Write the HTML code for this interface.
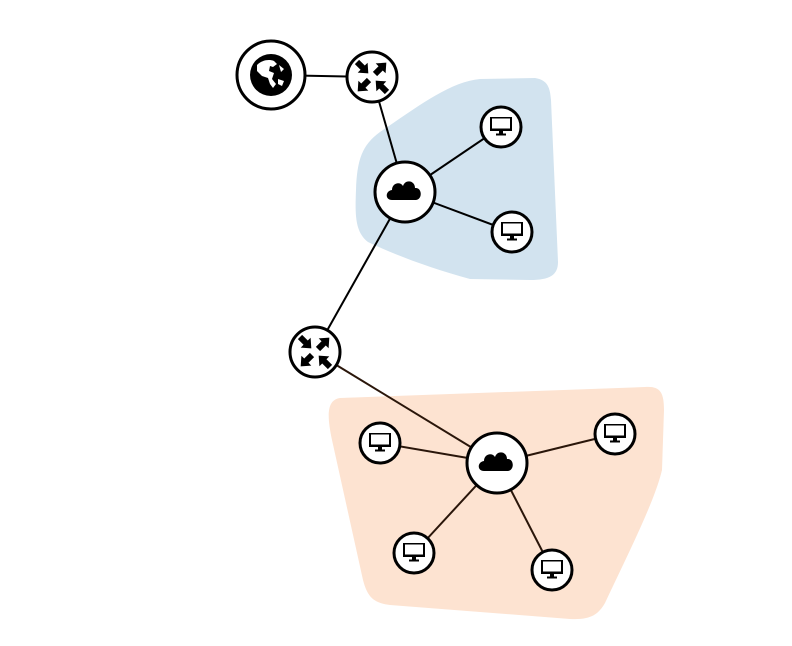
<!DOCTYPE html>
<html><head><meta charset="utf-8"><style>html,body{margin:0;padding:0;background:#fff}svg{display:block}</style></head>
<body>
<svg width="792" height="646" viewBox="0 0 792 646" xmlns="http://www.w3.org/2000/svg">
<defs>
  <g id="mon">
    <rect x="-11" y="-10" width="22" height="14" fill="#000"/>
    <rect x="-9" y="-8.5" width="18" height="10" fill="#fff"/>
    <rect x="-2" y="4" width="4" height="3" fill="#000"/>
    <rect x="-5" y="6.5" width="10" height="2" fill="#000"/>
  </g>
  <g id="cloud">
    <path d="M-13,9 C-20,9 -20,0 -13,-1 C-13,-8 -5,-10 -2,-5 C0,-12 10,-11 10,-3 C17,-4 18,8 11,9 Z" fill="#000"/>
  </g>
  <g id="arr">
    <path d="M0,-3 L8,-3 L8,-7 L16,0 L8,7 L8,3 L0,3 Z" fill="#000"/>
  </g>
  <g id="router">
    <use href="#arr" transform="translate(-15,-15) rotate(45)"/>
    <use href="#arr" transform="translate(3,-3) rotate(-45)"/>
    <use href="#arr" transform="translate(-3,3) rotate(135)"/>
    <use href="#arr" transform="translate(15,15) rotate(-135)"/>
  </g>
</defs>
<path d="M380,132 C420,105 450,82 480,79 L535,78 C548,80 550,88 551,100 L558,262 C558,275 550,280 530,280 L470,279 C430,268 395,255 368,242 C355,232 355,215 356,190 C357,160 362,145 380,132 Z" fill="#d2e3ef"/>
<path d="M340,398 L645,387 C660,386 664,392 664,410 L662,470 C655,500 630,550 605,603 C598,615 590,620 570,619 L390,605 C372,603 367,595 363,580 L332,440 C326,412 328,400 340,398 Z" fill="#fde3d1"/>
<g stroke="#000" stroke-width="2">
  <line x1="271" y1="75" x2="372" y2="77"/>
  <line x1="372" y1="77" x2="405" y2="192"/>
  <line x1="405" y1="192" x2="501" y2="127"/>
  <line x1="405" y1="192" x2="512" y2="232"/>
  <line x1="405" y1="192" x2="315" y2="352"/>
</g>
<g stroke="#2a160a" stroke-width="2">
  <line x1="315" y1="352" x2="497" y2="463"/>
  <line x1="497" y1="463" x2="380" y2="443"/>
  <line x1="497" y1="463" x2="615" y2="434"/>
  <line x1="497" y1="463" x2="414" y2="553"/>
  <line x1="497" y1="463" x2="552" y2="570"/>
</g>
<g fill="#fff" stroke="#000" stroke-width="3">
  <circle cx="271" cy="75" r="34"/>
  <circle cx="372" cy="77" r="25"/>
  <circle cx="405" cy="192" r="30"/>
  <circle cx="501" cy="127" r="20"/>
  <circle cx="512" cy="232" r="20"/>
  <circle cx="315" cy="352" r="25"/>
  <circle cx="497" cy="463" r="30"/>
  <circle cx="380" cy="443" r="20"/>
  <circle cx="615" cy="434" r="20"/>
  <circle cx="414" cy="553" r="20"/>
  <circle cx="552" cy="570" r="20"/>
</g>
<g transform="translate(271,75)">
  <circle r="21" fill="#000"/>
  <path d="M-14,-10 C-9,-15 -2,-16 3,-14 L6,-11 L2,-8 L-1,-9 L-2,-4 L3,-2 L1,4 L5,9 L2,13 L-1,9 L-3,3 L-9,1 L-14,-4 Z" fill="#fff"/>
  <path d="M8,-10 L13,-6 L10,-3 Z M7,4 L13,6 L11,11 L7,9 Z" fill="#fff"/>
</g>
<use href="#router" transform="translate(372,77)"/>
<use href="#router" transform="translate(315,352)"/>
<use href="#cloud" transform="translate(405,191)"/>
<use href="#cloud" transform="translate(497,462)"/>
<use href="#mon" transform="translate(501,127)"/>
<use href="#mon" transform="translate(512,232)"/>
<use href="#mon" transform="translate(380,443)"/>
<use href="#mon" transform="translate(615,434)"/>
<use href="#mon" transform="translate(414,553)"/>
<use href="#mon" transform="translate(552,570)"/>
</svg>
</body></html>
